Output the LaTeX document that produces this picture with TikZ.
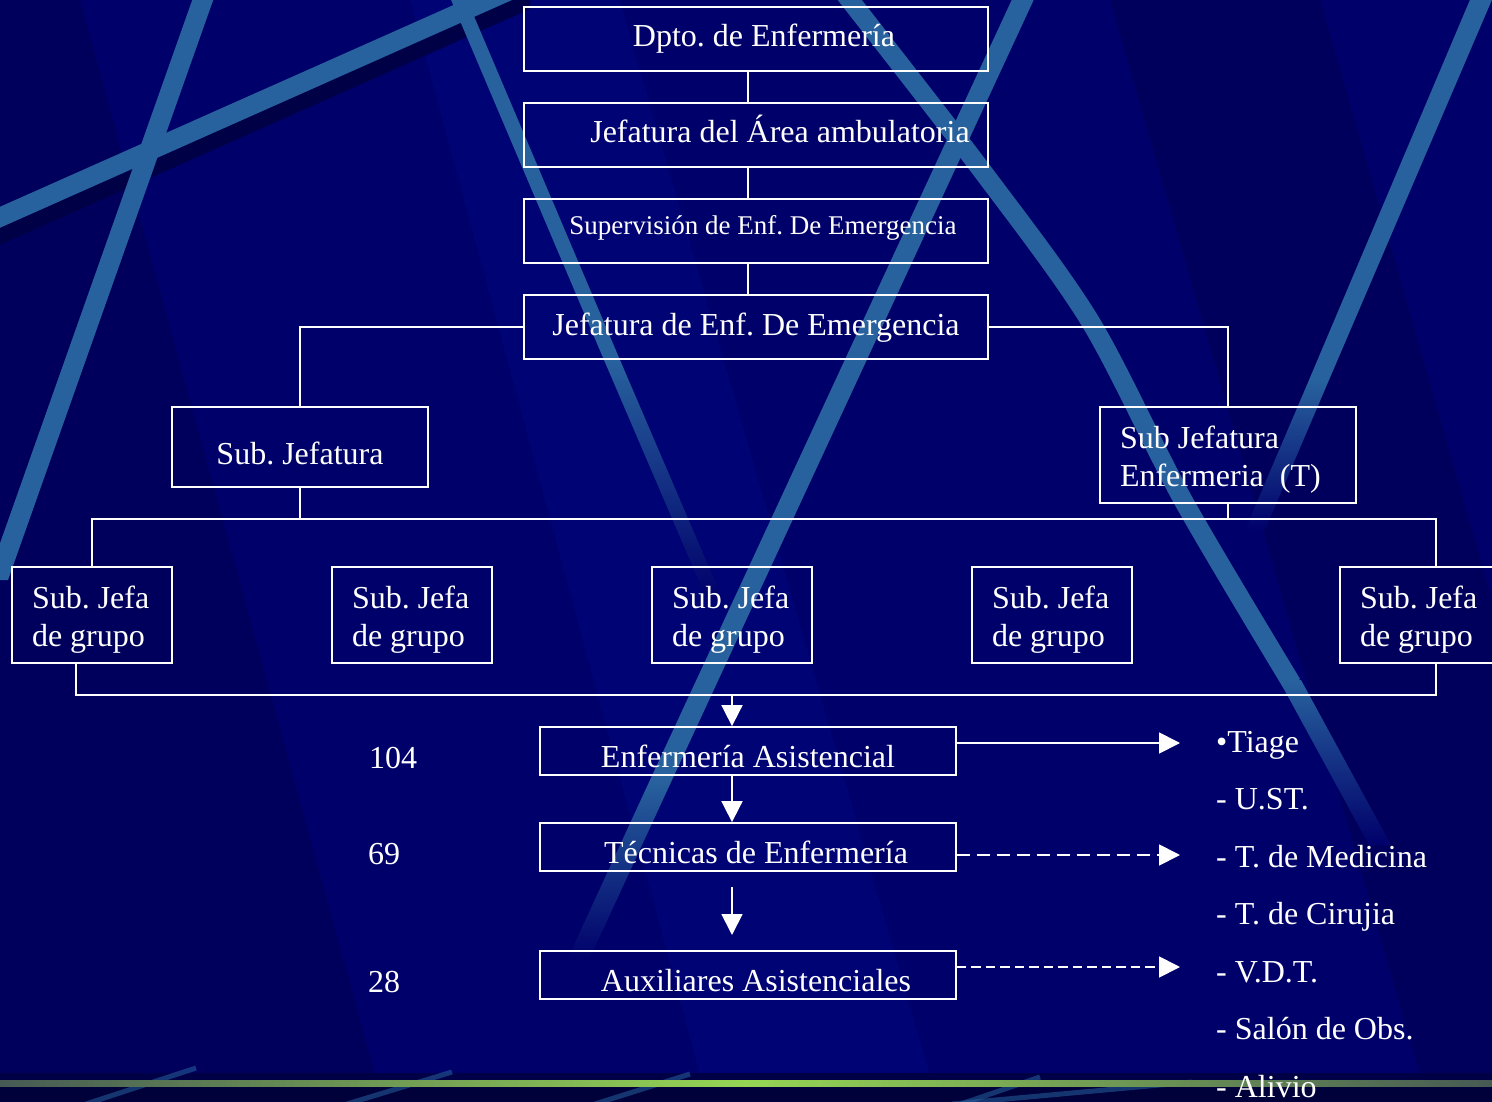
\documentclass[tikz,border=0pt]{standalone}
\usepackage{fontspec}
\setmainfont{Liberation Serif}
\usetikzlibrary{arrows.meta,calc}
\newcommand\fsbig{\fontsize{32}{38}\selectfont}
\newcommand\fssup{\fontsize{27}{32}\selectfont}
\newcommand\twol[3]{\vbox{\hbox to #3{#1\hfil}\hbox to #3{#2\hfil}}}
\definecolor{bgmain}{RGB}{0,0,106}
\definecolor{bgdark}{RGB}{0,0,92}
\definecolor{bglight}{RGB}{0,3,116}
\definecolor{streak}{RGB}{40,98,158}
\definecolor{shadowc}{RGB}{0,0,70}
\definecolor{bottomc}{RGB}{0,0,58}
\definecolor{barmid}{RGB}{150,214,84}
\definecolor{barend}{RGB}{70,90,84}
\begin{document}
\frenchspacing
\begin{tikzpicture}[x=1pt,y=-1pt,
  box/.style={draw=white, line width=1.8pt, inner sep=0pt, text=white, font=\fsbig},
  conn/.style={draw=white, line width=1.8pt},
  arr/.style={conn, -{Triangle[length=21pt,width=21pt]}},
  lbl/.style={text=white, font=\fsbig, inner sep=0pt, anchor=base west}]
\useasboundingbox (0,0) rectangle (1492,1102);
\clip (0,0) rectangle (1492,1102);
% ---------- background ----------
\fill[bgmain] (0,0) rectangle (1492,1102);
\fill[bgdark] (0,0) -- (80,0) -- (375,1075) -- (0,1075) -- cycle;
\fill[bgdark] (1110,0) -- (1320,0) -- (1492,600) -- (1492,1075) -- (1420,1075) -- cycle;
\fill[bglight] (410,0) -- (620,0) -- (930,1075) -- (700,1075) -- cycle;
% shadow under shallow streak
\fill[shadowc] (-5,230) -- (530,-8) -- (530,9) -- (-5,247) -- cycle;
% shallow streak top-left
\fill[streak] (-5,209) -- (530,-29) -- (530,-8) -- (-5,230) -- cycle;
% steep streak top-left
\fill[streak] (194,-5) -- (215,-5) -- (8,580) -- (-13,580) -- cycle;
% streak from top centre going down-right, fading
\fill[streak] (449,-5) -- (465,-5) -- (620,360) -- (604,360) -- cycle;
\shade[top color=streak, bottom color=bgmain] (604,360) -- (620,360) -- (723,600) -- (707,600) -- cycle;
% long streak going down-left
\fill[streak] (1014,-5) -- (1036,-5) -- (672,780) -- (650,780) -- cycle;
\shade[top color=streak, bottom color=bgmain] (650,780) -- (672,780) -- (589,960) -- (567,960) -- cycle;
% curved streak going down-right
\draw[streak, line width=19pt] plot[smooth] coordinates {(838,-15) (980,168) (1090,321) (1183,500) (1292,684)};
\shade[top color=streak, bottom color=bgmain] (1279,680) -- (1301,680) -- (1391,845) -- (1369,845) -- cycle;
% right streak
\fill[streak] (1472,-5) -- (1494,-5) -- (1329,380) -- (1309,380) -- cycle;
\shade[top color=streak, bottom color=bgmain] (1309,380) -- (1329,380) -- (1265,530) -- (1245,530) -- cycle;
% bottom band
\fill[shadowc] (0,1073) rectangle (1492,1080);
\fill[bottomc] (0,1086) rectangle (1492,1102);
\begin{scope}[streak, line width=5pt, opacity=0.55]
  \draw (86,1104) -- (196,1068);
  \draw (347,1104) -- (452,1072);
  \draw (595,1104) -- (690,1074);
  \draw (961,1104) -- (1040,1077);
  \draw (952,1104) -- (1192,1082);
\end{scope}
\shade[left color=barend, right color=barend, middle color=barmid] (0,1080) rectangle (1492,1086);
% ---------- boxes ----------
\node[box, minimum width=464pt, minimum height=64pt, text height=16pt, text depth=0pt] (dpto) at (756,39) {\hspace*{16pt}Dpto. de Enfermería};
\node[box, minimum width=464pt, minimum height=64pt, text height=16pt, text depth=0pt] (jefa) at (756,135) {\hspace*{48pt}Jefatura del Área ambulatoria};
\node[box, font=\fssup, minimum width=464pt, minimum height=64pt, text height=8pt, text depth=0pt] (sup) at (756,231) {\hspace*{14pt}Supervisión de Enf. De Emergencia};
\node[box, minimum width=464pt, minimum height=64pt, text height=16pt, text depth=0pt] (jemer) at (756,327) {Jefatura de Enf. De Emergencia};
\node[box, minimum width=256pt, minimum height=80pt, text height=34pt, text depth=0pt] (subj) at (300,447) {Sub. Jefatura};
\node[box, minimum width=256pt, minimum height=96pt, text height=62pt, text depth=0pt] (subjT) at (1228,455) {\twol{Sub Jefatura}{Enfermeria~~(T)}{216pt}};
\foreach \n/\x in {g1/92, g2/412, g3/732, g4/1052, g5/1420}
  \node[box, minimum width=160pt, minimum height=96pt, text height=62pt, text depth=0pt] (\n) at (\x,615) {\twol{Sub. Jefa}{de grupo}{120pt}};
\node[box, minimum width=416pt, minimum height=48pt, text height=32pt, text depth=0pt] (enf) at (748,751) {Enfermería Asistencial};
\node[box, minimum width=416pt, minimum height=48pt, text height=32pt, text depth=0pt] (tec) at (748,847) {\hspace*{16pt}Técnicas de Enfermería};
\node[box, minimum width=416pt, minimum height=48pt, text height=32pt, text depth=0pt] (aux) at (748,975) {\hspace*{16pt}Auxiliares Asistenciales};
% ---------- numbers and list ----------
\node[lbl] (n104) at (369,768) {104};
\node[lbl] (n69) at (368,864) {69};
\node[lbl] (n28) at (368,992) {28};
\node[lbl] (l1) at (1216,752) {•Tiage};
\node[lbl] (l2) at (1216,809) {- U.ST.};
\node[lbl] (l3) at (1216,867) {- T. de Medicina};
\node[lbl] (l4) at (1216,924) {- T. de Cirujia};
\node[lbl] (l5) at (1216,982) {- V.D.T.};
\node[lbl] (l6) at (1216,1039) {- Salón de Obs.};
\node[lbl] (l7) at (1216,1097) {- Alivio};
% ---------- connectors ----------
\draw[conn] ([xshift=-8pt]dpto.south) -- ([xshift=-8pt]jefa.north);
\draw[conn] ([xshift=-8pt]jefa.south) -- ([xshift=-8pt]sup.north);
\draw[conn] ([xshift=-8pt]sup.south) -- ([xshift=-8pt]jemer.north);
\draw[conn] (jemer.west) -| (subj.north);
\draw[conn] (jemer.east) -| (subjT.north);
\coordinate (busTL) at (92,519);
\coordinate (busTR) at (1436,519);
\draw[conn] (subj.south) -- (subj.south |- busTL);
\draw[conn] (subjT.south) -- (subjT.south |- busTL);
\draw[conn] (g1.north) -- (busTL) -- (busTR) -- (busTR |- g5.north);
\coordinate (busBL) at (76,695);
\coordinate (busBR) at (1436,695);
\draw[conn] (busBL |- g1.south) -- (busBL) -- (busBR) -- (busBR |- g5.south);
\coordinate (busA) at (732,695);
\draw[arr] (busA) -- (busA |- enf.north);
\draw[arr] (enf.south -| busA) -- (tec.north -| busA);
\coordinate (fa1) at (732,887);
\coordinate (fa2) at (732,935);
\draw[arr] (fa1) -- (fa2);
\coordinate (rA) at (1180,743);
\coordinate (rB) at (1180,855);
\coordinate (rC) at (1180,967);
\draw[arr] ([yshift=8pt]enf.east) -- (rA);
\draw[arr, dash pattern=on 13pt off 7pt] ([yshift=-8pt]tec.east) -- (rB);
\draw[arr, dash pattern=on 9.5pt off 5pt] ([yshift=8pt]aux.east) -- (rC);
\end{tikzpicture}
\end{document}
